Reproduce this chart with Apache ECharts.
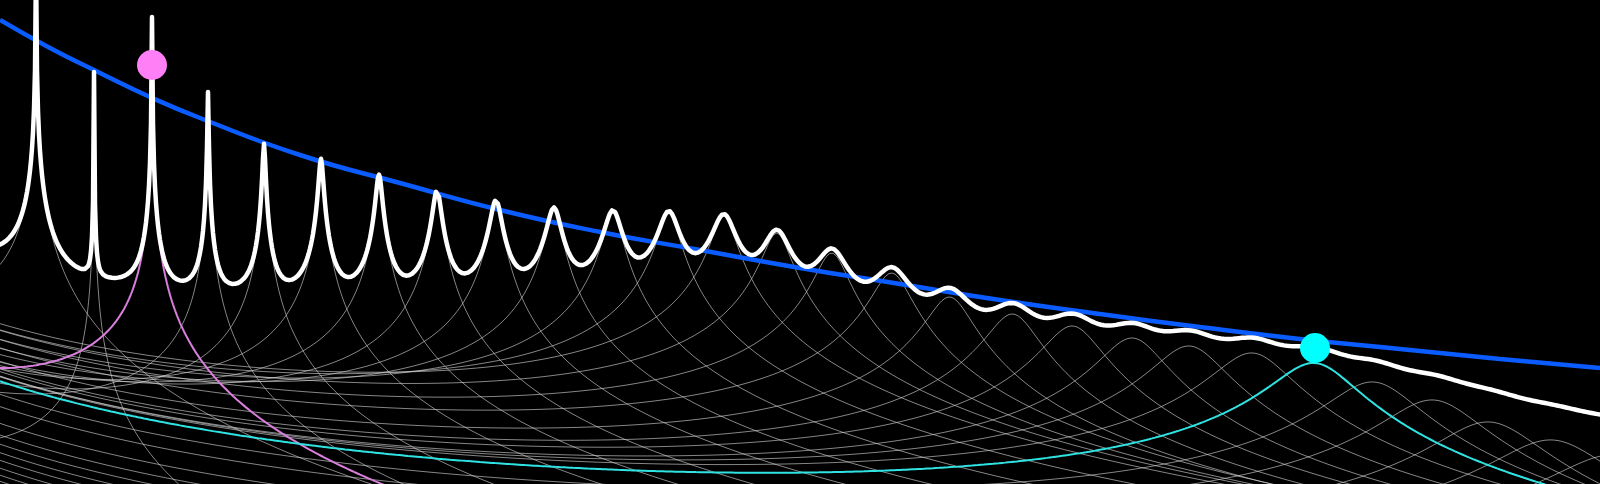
<!DOCTYPE html>
<html>
<head>
<meta charset="utf-8">
<script src="https://cdn.jsdelivr.net/npm/echarts@6/dist/echarts.min.js"></script>
<style>
html,body{margin:0;padding:0;background:#000;}
#chart{width:1600px;height:484px;}
</style>
</head>
<body>
<div id="chart"></div>
<script>
// ---- data (x: frequency units, y: level in dB) ----
const modeFreq   = [36, 94, 152, 208, 264, 321, 379, 437, 496, 554, 613, 669, 724, 777, 832, 892, 950, 1013, 1073, 1133, 1190, 1253, 1315, 1374, 1434, 1490, 1553, 1615, 1677, 1740, 1803, 1866, 1930, 1994];
const modePeakDb = [78.6, 61.8, 70.05, 58.8, 51.0, 48.75, 46.35, 43.95, 42.45, 41.25, 40.8, 40.65, 40.2, 37.65, 34.65, 31.65, 28.05, 25.5, 23.7, 21.9, 20.7, 19.65, 18.15, 15.3, 12.6, 9.3, 6.6, 4.35, 2.4, 0.6, -1.2, -2.85, -4.35, -5.85];
const modeWidth  = [0.15, 0.1, 0.16, 0.42, 1.25, 2.1, 2.9, 4.0, 5.3, 6.6, 7.9, 9.2, 10.5, 12.2, 14.3, 17.0, 19.8, 22.6, 25.8, 28.5, 31.8, 34.5, 37, 40, 43, 46, 50, 54, 57, 60, 63, 66, 69, 72];
const envelopeFreq = [0, 50, 100, 150, 200, 300, 400, 500, 600, 700, 800, 900, 1000, 1100, 1200, 1300, 1400, 1500, 1600];
const envelopeDb   = [69.6, 65.4, 61.65, 58.05, 54.9, 49.35, 45.15, 41.1, 37.8, 35.1, 32.4, 30.0, 27.6, 25.5, 23.55, 21.75, 20.25, 18.75, 17.4];
const highlightModes = [3, 23];            // mode numbers drawn in colour
const markerFreq = [152, 1315];
const markerDb   = [62.85, 20.4];

// ---- model constants ----
const LORENTZ_DB = 10 / Math.LN10;   // power Lorentzian in dB
const TILT_DB = 16.8;                // spectral tilt, dB per natural-log unit
const TILT_OFFSET = 300;
const X_MIN = 0, X_MAX = 1600, Y_MIN = 0, Y_MAX = 72.6;

// sample grid: every unit + exact mode frequencies
const xsSet = new Set();
for (let f = X_MIN; f <= X_MAX; f += 1) xsSet.add(f);
modeFreq.forEach(f => { if (f >= X_MIN && f <= X_MAX) xsSet.add(f); });
const xs = Array.from(xsSet).sort((a, b) => a - b);

function modeLevel(i, f) {
  const u = (f - modeFreq[i]) / modeWidth[i];
  return modePeakDb[i]
    - LORENTZ_DB * Math.log(1 + u * u)
    + TILT_DB * Math.log((modeFreq[i] + TILT_OFFSET) / (f + TILT_OFFSET));
}

const modeCurves = modeFreq.map((_, i) => xs.map(f => [f, modeLevel(i, f)]));
const sumCurve = xs.map((f, k) => {
  let p = 0;
  for (let i = 0; i < modeFreq.length; i++) p += Math.pow(10, modeCurves[i][k][1] / 10);
  return [f, 10 * Math.log10(p)];
});

const series = [];
modeCurves.forEach((data, i) => {
  const n = i + 1;
  if (highlightModes.includes(n)) return;
  series.push({
    type: 'line', data, symbol: 'none', silent: true, z: 1,
    lineStyle: { color: 'rgba(215,215,215,0.62)', width: 1 }
  });
});
const hlColors = ['#d97fdc', '#30e3e3'];
highlightModes.forEach((n, j) => {
  series.push({
    type: 'line', data: modeCurves[n - 1], symbol: 'none', silent: true, z: 2,
    lineStyle: { color: hlColors[j], width: 2 }
  });
});
series.push({
  type: 'line', data: envelopeFreq.map((f, i) => [f, envelopeDb[i]]),
  symbol: 'none', smooth: true, silent: true, z: 3,
  lineStyle: { color: '#0b5cff', width: 4.5 }
});
series.push({
  type: 'line', data: sumCurve, symbol: 'none', silent: true, z: 4,
  lineStyle: { color: '#ffffff', width: 4.5, join: 'round', cap: 'round' }
});
const dotColors = ['#ff80f6', '#00ffff'];
series.push({
  type: 'scatter', z: 5, silent: true, symbolSize: 30,
  data: markerFreq.map((f, i) => ({ value: [f, markerDb[i]], itemStyle: { color: dotColors[i], opacity: 1 } }))
});

const chart = echarts.init(document.getElementById('chart'), null, { renderer: 'canvas' });
chart.setOption({
  backgroundColor: '#000000',
  animation: false,
  grid: { left: 0, right: 0, top: 0, bottom: 0, containLabel: false },
  xAxis: { type: 'value', min: X_MIN, max: X_MAX, show: false },
  yAxis: { type: 'value', min: Y_MIN, max: Y_MAX, show: false },
  series
});
</script>
</body>
</html>
